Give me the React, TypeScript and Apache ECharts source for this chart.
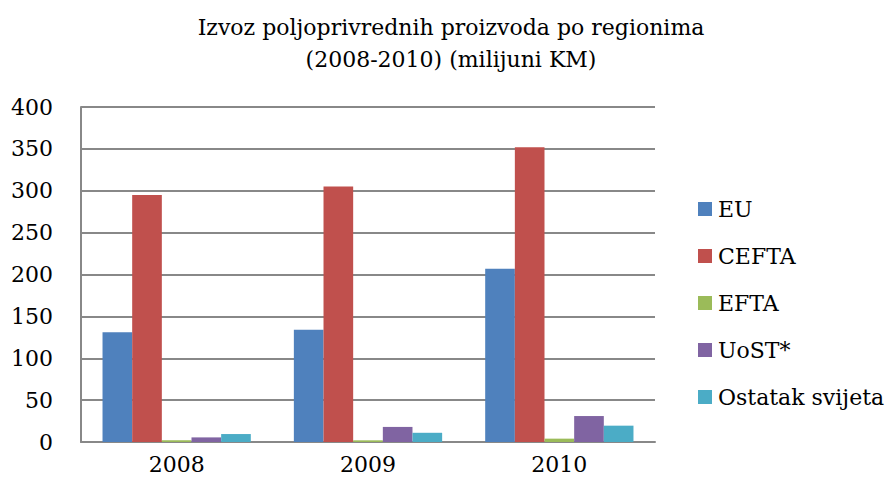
import React, { useEffect, useRef } from "react";
import * as echarts from "echarts";

const categories = ["2008", "2009", "2010"];
const seriesNames = ["EU", "CEFTA", "EFTA", "UoST*", "Ostatak svijeta"];
const euValues = [131, 134, 207];
const ceftaValues = [295, 305, 352];
const eftaValues = [2, 2, 4];
const uostValues = [5.5, 18, 31];
const ostatakValues = [9.5, 11, 19.5];
const colors = ["#4F81BD", "#C0504D", "#9BBB59", "#8064A2", "#4BACC6"];
const titleLines = ["Izvoz poljoprivrednih proizvoda po regionima", "(2008-2010) (milijuni KM)"];

const FONT = "DejaVu Serif";

export default function App() {
  const ref = useRef<HTMLDivElement>(null);
  useEffect(() => {
    if (!ref.current) return;
    const chart = echarts.init(ref.current, null, { renderer: "svg" });
    const data = [euValues, ceftaValues, eftaValues, uostValues, ostatakValues];
    chart.setOption({
      animation: false,
      color: colors,
      textStyle: { fontFamily: FONT, color: "#000" },
      title: {
        text: titleLines.join("\n"),
        left: 446,
        textAlign: "center",
        top: 6,
        textStyle: { fontFamily: FONT, fontSize: 22, fontWeight: "normal", color: "#000", lineHeight: 32 },
      },
      legend: {
        orient: "vertical",
        left: 693,
        top: 193,
        itemWidth: 14,
        itemHeight: 14,
        itemGap: 25,
        icon: "rect",
        textStyle: { fontFamily: FONT, fontSize: 22, color: "#000", padding: [0, 0, 0, 1] },
        data: seriesNames,
      },
      grid: { left: 81, right: 232, top: 107, bottom: 50, containLabel: false },
      xAxis: {
        type: "category",
        data: categories,
        axisLine: { lineStyle: { color: "#888", width: 2 } },
        axisTick: { show: false },
        axisLabel: { fontFamily: FONT, fontSize: 22, color: "#000", margin: 11 },
      },
      yAxis: {
        type: "value",
        min: 0,
        max: 400,
        interval: 50,
        axisLine: { show: true, lineStyle: { color: "#888", width: 2 } },
        axisTick: { show: false },
        axisLabel: { fontFamily: FONT, fontSize: 22, color: "#000", margin: 28 },
        splitLine: { lineStyle: { color: "#888", width: 2 } },
      },
      series: seriesNames.map((name, i) => ({
        name,
        type: "bar",
        data: data[i],
        barGap: "0%",
        barCategoryGap: "22.5%",
        itemStyle: { color: colors[i] },
      })),
    });
    return () => chart.dispose();
  }, []);
  return <div ref={ref} style={{ width: 887, height: 492, position: "absolute", left: 0, top: 0 }} />;
}
